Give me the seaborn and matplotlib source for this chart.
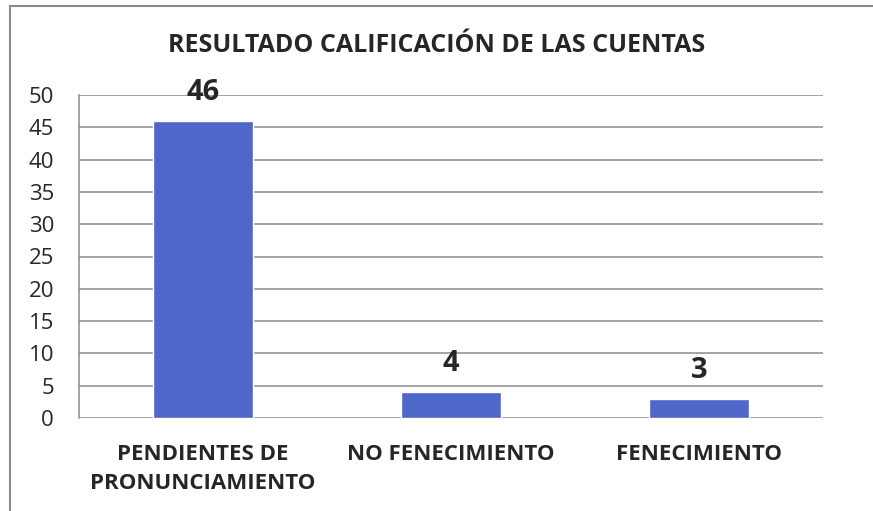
import matplotlib
matplotlib.use("Agg")
import matplotlib.pyplot as plt
import seaborn as sns
import pandas as pd
from matplotlib.patches import Rectangle

categorias = ["PENDIENTES DE\nPRONUNCIAMIENTO", "NO FENECIMIENTO", "FENECIMIENTO"]
valores = [46, 4, 3]
titulo = "RESULTADO CALIFICACIÓN DE LAS CUENTAS"
yticks = list(range(0, 55, 5))

sns.set_style("white")
plt.rcParams['font.family'] = ['Open Sans', 'DejaVu Sans']

df = pd.DataFrame({"categoria": categorias, "valor": valores})

fig = plt.figure(figsize=(8.73, 5.11), dpi=100)
ax = fig.add_axes([79/873, 1 - 418/511, (823 - 79)/873, (418 - 95)/511])

sns.barplot(data=df, x="categoria", y="valor", color="#4F67C8", saturation=1,
            width=0.4, ax=ax, zorder=3)

ax.set_ylim(0, 50)
ax.set_xlim(-0.5, 2.5)
ax.set_yticks(yticks)
ax.set_yticklabels([str(t) for t in yticks], fontsize=16)
ax.tick_params(axis='y', length=0, pad=18)
ax.tick_params(axis='x', length=0, pad=19)
for lbl in ax.get_xticklabels():
    lbl.set_fontweight('bold')
    lbl.set_fontsize(16)
    lbl.set_linespacing(1.45)
ax.set_xlabel("")
ax.set_ylabel("")
ax.yaxis.grid(True, color="#8C8C8C", linewidth=1.1, zorder=0)
for s in ["top", "right", "bottom"]:
    ax.spines[s].set_visible(False)
ax.spines["left"].set_color("#8C8C8C")
ax.spines["left"].set_linewidth(1.1)

for i, v in enumerate(valores):
    ax.annotate(str(v), (i, v), xytext=(0, 10), textcoords="offset points",
                ha="center", va="bottom", fontsize=21, fontweight="bold")

fig.text(0.5, 1 - 45/511, titulo, ha="center", va="center",
         fontsize=18, fontweight="bold")

# marco exterior del gráfico
fig.patches.append(Rectangle((10/873, -0.1), 1.0, 1 - 6/511 + 0.1,
                             transform=fig.transFigure, fill=False,
                             edgecolor="#8C8C8C", linewidth=1.5))

fig.savefig("out.png", dpi=100)
